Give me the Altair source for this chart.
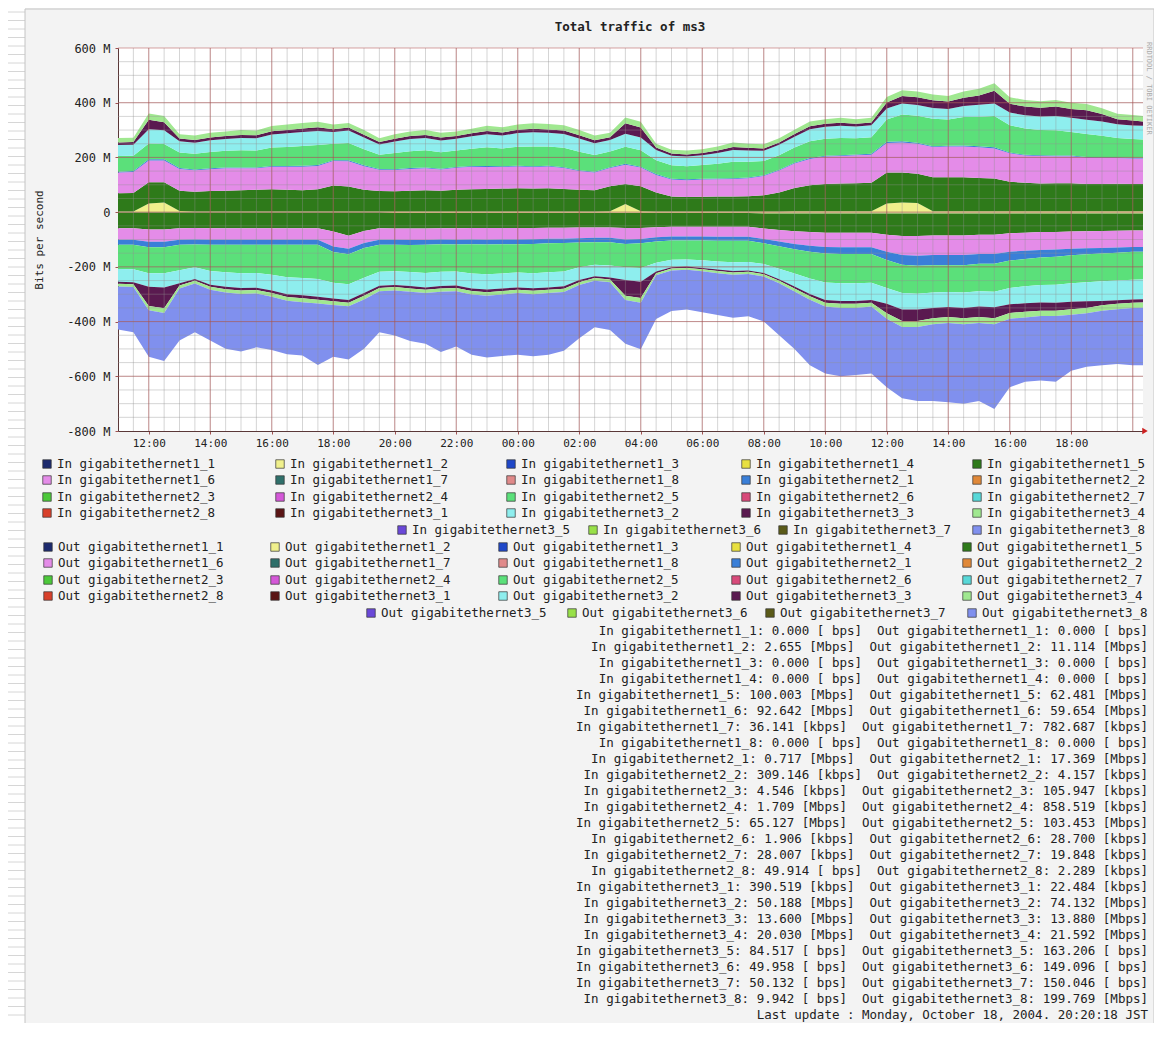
import altair as alt
import pandas as pd

MONO = "DejaVu Sans Mono"

# ---------------- data ----------------
T_START = "2004-10-17 11:00"
N_PTS = 68  # 30-minute samples, 11:00 (Sun) .. 20:30 (Mon)

IFACES = ["1_1", "1_2", "1_3", "1_4", "1_5", "1_6", "1_7", "1_8",
          "2_1", "2_2", "2_3", "2_4", "2_5", "2_6", "2_7", "2_8",
          "3_1", "3_2", "3_3", "3_4", "3_5", "3_6", "3_7", "3_8"]
IFACE_COLORS = ["#1c2a6e", "#f0f08c", "#1f47c8", "#e8e040", "#2e7a1a", "#e48ce8", "#2e6f6a", "#e08a8a",
                "#3a7fd8", "#e08838", "#4cc83a", "#d458d8", "#5be07a", "#d84a7a", "#58d8d8", "#d8402a",
                "#5a1414", "#8eeeee", "#5a1a50", "#a0e890", "#6a48d8", "#98e048", "#5a5a18", "#8090ee"]

# In (Mbit/s)
in_1_2 = [2, 2, 32, 35, 4, 2, 2, 2, 2, 2,
          2, 2, 2, 2, 2, 2, 2, 2, 2, 2,
          2, 2, 2, 2, 2, 2, 2, 2, 2, 2,
          2, 2, 3, 30, 3, 2, 2, 2, 2, 2,
          2, 2, 2, 2, 3, 3, 3, 3, 3, 3,
          32, 35, 33, 3, 3, 3, 3, 3, 3, 3,
          3, 3, 3, 3, 3, 3, 3, 3]
in_1_5 = [67, 68, 77, 74, 74, 73, 75, 76, 78, 80,
          82, 80, 78, 82, 95, 92, 80, 75, 74, 76,
          78, 76, 80, 82, 83, 84, 85, 84, 85, 83,
          80, 78, 92, 73, 92, 70, 55, 53, 54, 55,
          55, 56, 60, 70, 85, 95, 100, 102, 103, 104,
          113, 110, 107, 125, 125, 125, 122, 120, 108, 104,
          102, 103, 103, 100, 100, 101, 100, 100]
in_1_6 = [76, 77, 80, 80, 80, 78, 80, 82, 80, 78,
          82, 84, 86, 85, 90, 92, 86, 78, 78, 80,
          80, 78, 80, 82, 80, 79, 80, 79, 80, 76,
          68, 65, 66, 70, 68, 64, 62, 62, 63, 63,
          64, 66, 70, 80, 90, 96, 100, 100, 102, 103,
          108, 110, 110, 110, 112, 112, 112, 110, 104, 100,
          100, 98, 98, 96, 95, 94, 93, 93]
in_2_1 = [3, 3, 4, 4, 3, 3, 3, 3, 3, 3,
          3, 3, 4, 3, 3, 4, 3, 3, 3, 3,
          3, 3, 3, 3, 4, 3, 3, 3, 3, 3,
          3, 3, 3, 4, 3, 3, 3, 3, 3, 3,
          3, 3, 3, 3, 3, 4, 3, 3, 3, 3,
          4, 4, 4, 3, 3, 4, 4, 4, 3, 3,
          3, 3, 3, 3, 3, 3, 3, 3]
in_2_5 = [57, 56, 58, 56, 57, 57, 60, 61, 63, 62,
          67, 69, 72, 73, 60, 63, 59, 52, 59, 62,
          63, 60, 60, 63, 68, 65, 69, 72, 70, 71,
          68, 61, 58, 62, 60, 51, 49, 48, 50, 54,
          60, 57, 52, 53, 55, 61, 62, 63, 59, 61,
          82, 98, 98, 100, 96, 104, 108, 114, 100, 96,
          92, 92, 86, 84, 78, 70, 68, 66]
in_3_2 = [40, 40, 52, 50, 41, 41, 43, 43, 45, 45,
          48, 50, 51, 52, 43, 45, 43, 37, 42, 44,
          45, 43, 43, 45, 48, 47, 50, 52, 50, 51,
          48, 43, 42, 48, 47, 37, 35, 35, 36, 39,
          43, 41, 37, 38, 40, 44, 44, 45, 43, 44,
          40, 40, 40, 40, 38, 40, 44, 46, 46, 48,
          50, 52, 52, 52, 52, 50, 50, 50]
in_3_3 = [10, 10, 35, 30, 10, 10, 10, 11, 11, 11,
          12, 12, 13, 13, 10, 11, 10, 9, 10, 11,
          11, 11, 10, 11, 12, 11, 12, 13, 12, 12,
          12, 11, 10, 38, 36, 9, 8, 8, 8, 9,
          11, 10, 9, 9, 10, 11, 11, 11, 10, 10,
          22, 28, 28, 28, 27, 30, 33, 47, 32, 32,
          32, 35, 32, 34, 28, 19, 18, 15]
in_3_4 = [16, 16, 23, 22, 16, 16, 17, 17, 18, 17,
          19, 20, 20, 20, 17, 17, 17, 14, 17, 17,
          18, 17, 17, 17, 19, 19, 19, 20, 20, 20,
          19, 17, 16, 21, 21, 14, 14, 14, 14, 15,
          17, 15, 15, 15, 15, 17, 17, 18, 17, 17,
          20, 21, 21, 21, 21, 23, 25, 27, 24, 24,
          23, 24, 23, 23, 21, 20, 20, 20]

# Out (Mbit/s, drawn below zero)
out_1_2 = [1, 1, 1, 1, 1, 1, 1, 1, 1, 1,
           1, 1, 1, 1, 1, 1, 1, 1, 3, 3,
           3, 3, 3, 3, 3, 3, 3, 3, 3, 3,
           3, 3, 3, 3, 3, 3, 3, 3, 3, 3,
           3, 3, 5, 5, 5, 5, 5, 5, 5, 5,
           5, 5, 5, 5, 5, 5, 5, 5, 5, 5,
           5, 5, 5, 5, 5, 5, 5, 5]
out_1_5 = [58, 58, 62, 62, 58, 57, 58, 58, 58, 58,
           58, 58, 58, 58, 70, 85, 68, 58, 57, 57,
           57, 56, 56, 55, 55, 55, 55, 55, 54, 54,
           53, 53, 53, 55, 55, 52, 50, 50, 50, 50,
           50, 50, 55, 60, 65, 68, 70, 70, 70, 70,
           78, 82, 82, 80, 80, 80, 78, 78, 72, 70,
           68, 68, 66, 65, 64, 63, 62, 62]
out_1_6 = [42, 42, 45, 45, 42, 42, 42, 42, 42, 42,
           42, 42, 42, 42, 55, 48, 44, 42, 41, 42,
           42, 41, 42, 42, 43, 42, 42, 41, 40, 40,
           39, 38, 38, 42, 40, 37, 36, 36, 36, 37,
           37, 37, 38, 42, 46, 50, 52, 53, 53, 53,
           62, 70, 72, 72, 72, 72, 70, 70, 68, 66,
           65, 64, 63, 62, 62, 61, 60, 60]
out_2_1 = [18, 18, 20, 20, 18, 18, 18, 18, 18, 18,
           18, 18, 18, 18, 20, 20, 18, 18, 18, 18,
           17, 17, 17, 17, 17, 17, 17, 17, 17, 16,
           16, 16, 16, 16, 16, 15, 15, 15, 15, 15,
           15, 15, 16, 18, 20, 22, 24, 25, 25, 25,
           30, 35, 37, 37, 37, 37, 36, 36, 32, 30,
           28, 26, 24, 22, 20, 19, 18, 17]
out_2_5 = [89, 90, 95, 95, 93, 83, 96, 101, 104, 103,
           110, 119, 122, 125, 112, 110, 109, 99, 97, 99,
           103, 101, 99, 107, 109, 107, 104, 107, 106, 104,
           90, 82, 85, 85, 90, 78, 70, 69, 72, 75,
           78, 77, 76, 82, 88, 98, 106, 107, 107, 105,
           102, 104, 102, 100, 98, 100, 100, 102, 100, 100,
           100, 102, 102, 102, 102, 102, 102, 102]
out_3_2 = [46, 47, 50, 52, 48, 43, 50, 53, 54, 54,
           57, 62, 63, 65, 58, 57, 56, 51, 50, 51,
           53, 52, 51, 55, 56, 55, 54, 55, 55, 54,
           47, 42, 44, 47, 50, 32, 27, 26, 28, 30,
           32, 31, 32, 38, 48, 56, 64, 65, 65, 63,
           58, 60, 58, 56, 55, 56, 56, 57, 60, 62,
           64, 66, 68, 70, 72, 72, 72, 72]
out_3_3 = [8, 8, 70, 76, 8, 7, 8, 9, 9, 9,
           10, 10, 11, 11, 10, 10, 10, 8, 8, 9,
           9, 9, 9, 9, 10, 9, 9, 9, 9, 9,
           8, 7, 7, 58, 60, 6, 5, 5, 5, 5,
           6, 5, 5, 6, 7, 8, 10, 10, 10, 10,
           35, 42, 42, 38, 36, 38, 38, 40, 32, 31,
           30, 29, 27, 24, 15, 13, 12, 12]
out_3_4 = [10, 10, 16, 18, 11, 10, 11, 12, 13, 12,
           13, 14, 14, 14, 13, 13, 13, 12, 12, 12,
           12, 12, 12, 13, 13, 13, 12, 13, 12, 12,
           10, 10, 10, 15, 17, 8, 7, 7, 7, 8,
           8, 8, 8, 9, 11, 13, 14, 15, 15, 14,
           20, 22, 22, 22, 22, 22, 22, 22, 21, 21,
           20, 20, 20, 20, 20, 20, 19, 19]
out_3_8 = [157, 165, 170, 175, 190, 178, 185, 205, 210, 197,
           195, 195, 195, 225, 190, 195, 180, 150, 165, 180,
           185, 220, 202, 220, 225, 225, 225, 227, 225, 215,
           195, 170, 175, 160, 170, 160, 148, 145, 150, 153,
           157, 155, 165, 190, 210, 240, 245, 250, 245, 245,
           250, 260, 270, 280, 290, 290, 285, 310, 250, 235,
           235, 240, 205, 195, 200, 200, 210, 210]

PLOT_IN = [("1_2", in_1_2), ("1_5", in_1_5), ("1_6", in_1_6), ("2_1", in_2_1),
           ("2_5", in_2_5), ("3_2", in_3_2), ("3_3", in_3_3), ("3_4", in_3_4)]
PLOT_OUT = [("1_2", out_1_2), ("1_5", out_1_5), ("1_6", out_1_6), ("2_1", out_2_1),
            ("2_5", out_2_5), ("3_2", out_3_2), ("3_3", out_3_3), ("3_4", out_3_4),
            ("3_8", out_3_8)]

# current rates (legend text)
IN_RATE = [0.000, 2.655, 0.000, 0.000, 100.003, 92.642, 36.141, 0.000,
           0.717, 309.146, 4.546, 1.709, 65.127, 1.906, 28.007, 49.914,
           390.519, 50.188, 13.600, 20.030, 84.517, 49.958, 50.132, 9.942]
IN_UNIT = [" bps", "Mbps", " bps", " bps", "Mbps", "Mbps", "kbps", " bps",
           "Mbps", "kbps", "kbps", "Mbps", "Mbps", "kbps", "kbps", " bps",
           "kbps", "Mbps", "Mbps", "Mbps", " bps", " bps", " bps", " bps"]
OUT_RATE = [0.000, 11.114, 0.000, 0.000, 62.481, 59.654, 782.687, 0.000,
            17.369, 4.157, 105.947, 858.519, 103.453, 28.700, 19.848, 2.289,
            22.484, 74.132, 13.880, 21.592, 163.206, 149.096, 150.046, 199.769]
OUT_UNIT = [" bps", "Mbps", " bps", " bps", "Mbps", "Mbps", "kbps", " bps",
            "Mbps", "kbps", "kbps", "kbps", "Mbps", "kbps", "kbps", "kbps",
            "kbps", "Mbps", "Mbps", "Mbps", " bps", " bps", " bps", "Mbps"]
LAST_UPDATE = "Last update : Monday, October 18, 2004. 20:20:18 JST"
TITLE = "Total traffic of ms3"
Y_TITLE = "Bits per second"
CREDIT = "RRDTOOL / TOBI OETIKER"

Y_TICKS = [-800, -600, -400, -200, 0, 200, 400, 600]

for _, v in PLOT_IN + PLOT_OUT:
    assert len(v) == N_PTS, len(v)

# ---------------- build tables ----------------
times = pd.date_range(T_START, periods=N_PTS, freq="30min").strftime("%Y-%m-%dT%H:%M:%S")
color_of = dict(zip(IFACES, IFACE_COLORS))
rows = []
series_names, series_colors = [], []
for k, (iface, vals) in enumerate(PLOT_IN):
    name = f"In {iface}"
    series_names.append(name); series_colors.append(color_of[iface])
    for t, v in zip(times, vals):
        rows.append({"t": t, "series": name, "ord": k, "value": v})
for k, (iface, vals) in enumerate(PLOT_OUT):
    name = f"Out {iface}"
    series_names.append(name); series_colors.append(color_of[iface])
    for t, v in zip(times, vals):
        rows.append({"t": t, "series": name, "ord": 20 + k, "value": -v})
df = pd.DataFrame(rows)

d0 = alt.DateTime(year=2004, month=10, date=17, hours=11, minutes=0)
d1 = alt.DateTime(year=2004, month=10, date=18, hours=20, minutes=20)
xscale = alt.Scale(domain=[d0, d1])
yscale = alt.Scale(domain=[-800, 600], nice=False, zero=False)

x_ticks = ([alt.DateTime(year=2004, month=10, date=17, hours=h) for h in range(12, 24, 2)] +
           [alt.DateTime(year=2004, month=10, date=18, hours=h) for h in range(0, 20, 2)])

minor_t = pd.date_range("2004-10-17 11:30", "2004-10-18 20:00", freq="30min").strftime("%Y-%m-%dT%H:%M:%S")
major_t = pd.date_range("2004-10-17 12:00", "2004-10-18 20:00", freq="2h").strftime("%Y-%m-%dT%H:%M:%S")
minor_y = list(range(-750, 600, 50))
major_y = list(range(-600, 601, 200))

areas = alt.Chart(df).mark_area(clip=True, interpolate="linear").encode(
    x=alt.X("t:T", scale=xscale, axis=alt.Axis(
        values=x_ticks, format="%H:%M", title=None, grid=False,
        labelFont=MONO, labelFontSize=11, labelColor="#222", labelPadding=3,
        labelOverlap=False, labelFlush=False,
        domainColor="#5a3838", tickColor="#a05050", tickSize=3)),
    y=alt.Y("value:Q", stack="zero", scale=yscale, axis=alt.Axis(
        values=Y_TICKS, labelExpr="datum.value == 0 ? '0' : datum.value + ' M'",
        title=Y_TITLE, titleFont=MONO, titleFontSize=11, titleFontWeight="normal",
        titleColor="#222", titlePadding=22, grid=False,
        labelFont=MONO, labelFontSize=12, labelColor="#222", labelPadding=5,
        domainColor="#5a3838", tickColor="#a05050", tickSize=3)),
    color=alt.Color("series:N", scale=alt.Scale(domain=series_names, range=series_colors), legend=None),
    order=alt.Order("ord:Q"),
)

minor_v = alt.Chart(pd.DataFrame({"t": minor_t})).mark_rule(color="#909090", opacity=0.38, strokeWidth=1).encode(
    x=alt.X("t:T", scale=xscale, axis=None))
minor_h = alt.Chart(pd.DataFrame({"v": minor_y})).mark_rule(color="#909090", opacity=0.38, strokeWidth=1).encode(
    y=alt.Y("v:Q", scale=yscale, axis=None))
major_v = alt.Chart(pd.DataFrame({"t": major_t})).mark_rule(color="#b04848", opacity=0.5, strokeWidth=1).encode(
    x=alt.X("t:T", scale=xscale, axis=None))
major_h = alt.Chart(pd.DataFrame({"v": major_y})).mark_rule(color="#b04848", opacity=0.5, strokeWidth=1).encode(
    y=alt.Y("v:Q", scale=yscale, axis=None))

one = pd.DataFrame({"a": [0]})
arrow = alt.Chart(one).mark_point(shape="triangle-right", filled=True, color="#cc2020", size=40, opacity=1).encode(
    x=alt.value(1027), y=alt.value(383))
title_mark = alt.Chart(one).mark_text(text=TITLE, font=MONO, fontSize=12.5, fontWeight="bold", color="#222",
                                      align="center", baseline="middle").encode(
    x=alt.value(512), y=alt.value(-21))

# ---------------- legend layout (pixel positions relative to plot origin) ----------------
PX = alt.Scale(domain=[0, 1025], range=[0, 1025], nice=False, zero=False)
PY = alt.Scale(domain=[0, 383], range=[0, 383], nice=False, zero=False)

IN_COLS = [-71, 162, 393, 628, 859]
OUT_COLS = [-70, 157, 385, 618, 849]
IN_EXTRA = [284, 475, 665, 859]
OUT_EXTRA = [253, 454, 652, 854]
IN_ROWS = [416, 432, 449, 465]
OUT_ROWS = [499, 515, 532, 548]
IN_EXTRA_Y = 482
OUT_EXTRA_Y = 565

leg = []
for dirn, cols, extra, rys, ey in [("In", IN_COLS, IN_EXTRA, IN_ROWS, IN_EXTRA_Y),
                                     ("Out", OUT_COLS, OUT_EXTRA, OUT_ROWS, OUT_EXTRA_Y)]:
    for k, iface in enumerate(IFACES):
        if k < 20:
            r, c = divmod(k, 5)
            px, py = cols[c], rys[r]
        else:
            px, py = extra[k - 20], ey
        leg.append({"px": px, "tx": px + 10, "py": py,
                    "label": f"{dirn} gigabitethernet{iface}", "color": IFACE_COLORS[k]})
leg_df = pd.DataFrame(leg)

leg_sq = alt.Chart(leg_df).mark_square(size=72, filled=True, opacity=1, stroke="#333", strokeWidth=0.7).encode(
    x=alt.X("px:Q", scale=PX, axis=None), y=alt.Y("py:Q", scale=PY, axis=None),
    fill=alt.Color("color:N", scale=None))
leg_tx = alt.Chart(leg_df).mark_text(align="left", baseline="middle", font=MONO, fontSize=12.5, color="#222").encode(
    x=alt.X("tx:Q", scale=PX, axis=None), y=alt.Y("py:Q", scale=PY, axis=None), text="label:N")

NB = "\u00a0"
stat_lines = []
for k, iface in enumerate(IFACES):
    s = (f"In gigabitethernet{iface}: {IN_RATE[k]:.3f} [{IN_UNIT[k]}]{NB}{NB}"
         f"Out gigabitethernet{iface}: {OUT_RATE[k]:.3f} [{OUT_UNIT[k]}]")
    stat_lines.append(s.replace(" ", NB))
stat_lines.append(LAST_UPDATE.replace(" ", NB))
stat_df = pd.DataFrame({"text": stat_lines,
                        "sy": [583 + 16.0 * i for i in range(len(stat_lines))],
                        "sx": [1030] * len(stat_lines)})
stats = alt.Chart(stat_df).mark_text(align="right", baseline="middle", font=MONO, fontSize=12.5, color="#222").encode(
    x=alt.X("sx:Q", scale=PX, axis=None), y=alt.Y("sy:Q", scale=PY, axis=None), text="text:N")

# ---------------- decoration ----------------
panel = alt.Chart(one).mark_rect(fillOpacity=0, stroke="#c4c4c4", strokeWidth=1).encode(
    x=alt.value(-93), x2=alt.value(1036), y=alt.value(-39), y2=alt.value(990))
strip = alt.Chart(one).mark_rect(fill="white").encode(
    x=alt.value(-110), x2=alt.value(-93), y=alt.value(-40), y2=alt.value(990))
stripes = alt.Chart(pd.DataFrame({"sy": [-36 + 8.5 * i for i in range(119)]})).mark_rule(
    color="#d6d6d6", strokeWidth=1).encode(
    x=alt.value(-110), x2=alt.value(-93), y=alt.Y("sy:Q", scale=PY, axis=None))
credit = alt.Chart(one).mark_text(text=CREDIT, angle=90, font=MONO, fontSize=7,
                                  color="#aaaaaa", align="left", baseline="middle").encode(
    x=alt.value(1031), y=alt.value(-6))

chart = alt.layer(
    strip, stripes, panel,
    areas, minor_v, minor_h, major_v, major_h, arrow, title_mark,
    leg_sq, leg_tx, stats, credit,
).resolve_scale(
    x="independent", y="independent"
).properties(
    width=1025, height=383,
    autosize=alt.AutoSizeParams(type="none"),
    padding={"left": 110, "top": 40, "right": 11, "bottom": 592},
    background="#f3f3f3",
).configure_view(fill="white", stroke=None)

chart.save("out.html", embed_options={"renderer": "svg", "actions": False})
